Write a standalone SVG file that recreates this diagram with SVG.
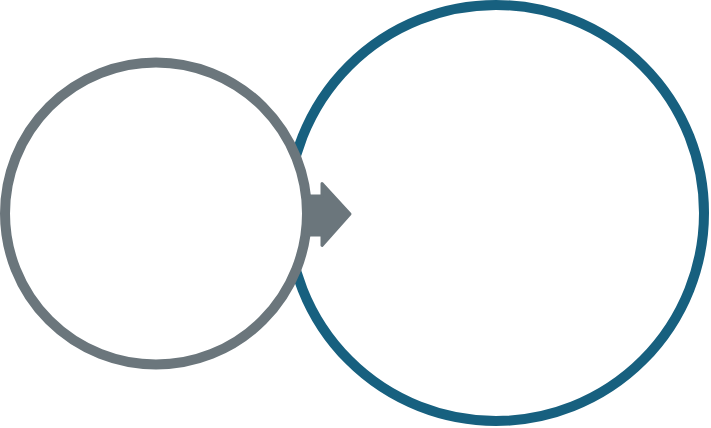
<svg xmlns="http://www.w3.org/2000/svg" width="711" height="428" viewBox="0 0 711 428">
<style>
.bg{fill:#ffffff}
.ring{fill:#ffffff;stroke-width:10}
.blue{stroke:#17607f}
.gray{stroke:#6b767c}
.arrow{fill:#6b767c;stroke:#6b767c;stroke-width:3;stroke-linejoin:round}
</style>
<rect class="bg" x="0" y="0" width="711" height="428"/>
<g id="node-target">
<circle class="ring blue" cx="496" cy="213" r="208"/>
</g>
<g id="node-source">
<circle class="ring gray" cx="156" cy="213.5" r="151"/>
</g>
<g id="connectors">
<path class="arrow" d="M306,196 L322,196 L322,183.5 L350,214 L322,245.5 L322,235 L306,235 Z"/>
</g>
</svg>
